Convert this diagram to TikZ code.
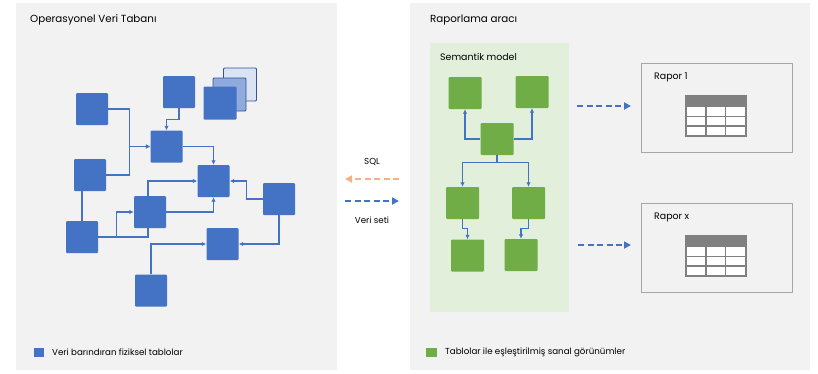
\documentclass[tikz,border=0pt]{standalone}
\usepackage{fontspec}
\setmainfont{Poppins}
\usetikzlibrary{arrows.meta,calc}
\definecolor{bbox}{HTML}{4472C4}
\definecolor{bline}{HTML}{4472C4}
\definecolor{gbox}{HTML}{70AD47}
\definecolor{gpanel}{HTML}{E2EFDA}
\definecolor{panel}{HTML}{F2F2F2}
\definecolor{midb}{HTML}{8FAADC}
\definecolor{backb}{HTML}{DAE3F3}
\definecolor{stackedge}{HTML}{2F5597}
\definecolor{orng}{HTML}{F4B183}
\definecolor{tgray}{HTML}{808080}
\definecolor{rgray}{HTML}{A6A6A6}
\tikzset{
  phys/.style={rectangle, fill=bbox, rounded corners=1pt, inner sep=0pt, minimum width=32pt, minimum height=32pt},
  virt/.style={rectangle, fill=gbox, rounded corners=1pt, inner sep=0pt, minimum width=33pt, minimum height=32pt},
  conn/.style={draw=bline, line width=1.2pt, -{Latex[length=4.5pt,width=4.5pt]}},
  plain/.style={draw=bline, line width=1.2pt},
  dasharrow/.style={line width=1.9pt, dash pattern=on 6pt off 3.5pt, -{Triangle[length=7pt,width=7pt]}},
  lbl/.style={anchor=west, inner sep=0pt, font=\fontsize{10.3}{12}\selectfont},
  small/.style={inner sep=0pt, font=\fontsize{8.7}{10}\selectfont},
  mid/.style={inner sep=0pt, anchor=west, font=\fontsize{9.4}{11}\selectfont},
  rapor/.style={draw=rgray, line width=0.9pt, fill=panel, inner sep=0pt, minimum width=151pt, minimum height=89pt},
}
\begin{document}
\begin{tikzpicture}[x=1pt,y=-1pt]
\useasboundingbox (0,0) rectangle (818,373);
\fill[white] (0,0) rectangle (818,373);
% panels
\fill[panel] (16,3) rectangle (337,370);
\fill[panel] (410,3) rectangle (810,370);
\node[lbl] (t1) at (30,20) {Operasyonel Veri Tabanı};
\node[lbl] (t2) at (430,20) {Raporlama aracı};
% stack
\node[phys, fill=backb, draw=stackedge, line width=0.8pt, minimum width=33pt, minimum height=33pt] (s3) at (240,84.5) {};
\node[phys, fill=midb, draw=stackedge, line width=0.8pt, minimum width=33pt, minimum height=33pt] (s2) at (229.5,94.5) {};
\node[phys, minimum width=33pt, minimum height=33pt] (s1) at (220,103) {};
% blue nodes
\node[phys] (A) at (92,109) {};
\node[phys] (B) at (179,92) {};
\node[phys] (C) at (166.5,146.5) {};
\node[phys] (D) at (90,175) {};
\node[phys] (E) at (213.5,181) {};
\node[phys] (F) at (150,212) {};
\node[phys] (G) at (279,199) {};
\node[phys] (H) at (82,237) {};
\node[phys] (I) at (222.5,244) {};
\node[phys] (J) at (151,290.5) {};
% blue connectors
\draw[conn] (A.east) -- ++(21,0) |- (C.west);
\draw[conn] (D.east) -- ++(23,0) |- (C.west);
\draw[conn] (B.south) -- ++(0,11) -| (C.north);
\draw[conn] (C.east) -| (E.north);
\draw[conn] ([xshift=-2pt]F.north) |- (E.west);
\draw[conn] (F.east) -| (E.south);
\draw[conn] (G.west) -- ++(-16,0) |- (E.east);
\draw[conn] (G.south) |- (I.east);
\draw[conn] (J.north) |- (I.west);
\draw[conn] (H.north) -- ++(0,-31) -| (D.south);
\draw[conn] (H.east) -- ++(18,0) |- (F.west);
\draw[plain] (H.east) -| ([xshift=-2pt]F.south);
% legend left
\node[phys, minimum width=10pt, minimum height=9.5pt, rounded corners=0pt] (lg1) at (39,352.5) {};
\node[small, anchor=west] (lt1) at (52,352.5) {Veri barındıran fiziksel tablolar};
% middle
\coordinate (m1) at (399,179);
\coordinate (m2) at (345,179);
\coordinate (m3) at (345,201);
\coordinate (m4) at (399,201);
\draw[dasharrow, orng] (m1) -- (m2);
\draw[dasharrow, bline] (m3) -- (m4);
\node[small] (sql) at (372,162) {SQL};
\node[small] (vs) at (372,220) {Veri seti};
% semantic model
\fill[gpanel] (430,43) rectangle (569,312);
\coordinate (semE) at (569,150);
\node[mid] (sm) at (440,57) {Semantik model};
\node[virt] (G1) at (465,93) {};
\node[virt] (G2) at (532,92) {};
\node[virt] (G3) at (497,139) {};
\node[virt] (G4) at (462.5,203) {};
\node[virt] (G5) at (528.5,203) {};
\node[virt] (G6) at (467.5,255.5) {};
\node[virt] (G7) at (521,255) {};
\draw[conn] (G3.west) -| (G1.south);
\draw[conn] (G3.east) -| (G2.south);
\draw[conn] (G3.south) -- ++(0,7) -| (G4.north);
\draw[conn] (G3.south) -- ++(0,7) -| (G5.north);
\draw[conn] (G4.south) -- ++(0,9) -| (G6.north);
\draw[conn] (G5.south) -- ++(0,9) -| (G7.north);
% reports
\node[rapor] (r1) at (716.5,107.5) {};
\node[rapor] (r2) at (716.5,247.5) {};
\node[mid] (r1t) at (654,77) {Rapor 1};
\node[mid] (r2t) at (654,217) {Rapor x};
\draw[dasharrow, bline] ([xshift=8pt]semE |- 0,106) -- (631,106);
\draw[dasharrow, bline] ([xshift=9pt]semE |- 0,245) -- (631,245);
% tables
\foreach \ty in {96,236}{
  \fill[white] (686,\ty) rectangle (746,\ty+40);
  \fill[tgray] (686,\ty) rectangle (746,\ty+11);
  \foreach \yy in {20.5,30} \draw[tgray, line width=1.3pt] (686,\ty+\yy) -- (746,\ty+\yy);
  \foreach \xx in {706,725.5} \draw[tgray, line width=1.3pt] (\xx,\ty+11) -- (\xx,\ty+40);
  \draw[tgray, line width=1.6pt] (686,\ty) rectangle (746,\ty+40);
}
% legend right
\node[virt, minimum width=11pt, minimum height=9.5pt, rounded corners=0pt] (lg2) at (431.5,352.5) {};
\node[small, anchor=west] (lt2) at (445,352.5) {Tablolar ile eşleştirilmiş sanal görünümler};
\end{tikzpicture}
\end{document}
